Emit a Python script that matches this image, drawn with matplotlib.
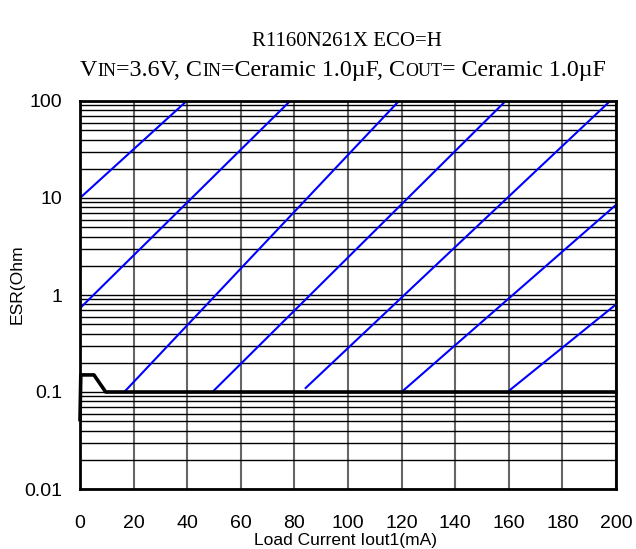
import matplotlib
matplotlib.use("Agg")
import matplotlib.pyplot as plt
from matplotlib.ticker import FixedLocator, LogLocator, NullFormatter
from matplotlib.transforms import Bbox

# stable region boundary (black curve)
esr_x = [0, 0.3, 5.2, 9.6, 200]
esr_y = [0.052, 0.15, 0.15, 0.1, 0.1]

# blue diagonal lines (start / end points)
diag_x = [(0, 39.8), (0, 78.4), (16.5, 119), (49.4, 158), (84.2, 197.8), (120, 200), (159.5, 200)]
diag_y = [(10, 100), (0.73, 100), (0.1, 100), (0.1, 95), (0.11, 100), (0.1, 8.5), (0.1, 0.8)]

xticks = [0, 20, 40, 60, 80, 100, 120, 140, 160, 180, 200]
yticks = [0.01, 0.1, 1, 10, 100]
ytick_labels = ["0.01", "0.1", "1", "10", "100"]

W, H = 636, 549
fig = plt.figure(figsize=(W / 100, H / 100), dpi=100)
ax = fig.add_axes([80 / W, 1 - 489 / H, 536 / W, 388 / H])

ax.set_yscale("log")
ax.set_xlim(0, 200)
ax.set_ylim(0.01, 100)

ax.xaxis.set_major_locator(FixedLocator(xticks))
ax.yaxis.set_major_locator(FixedLocator(yticks))
ax.yaxis.set_minor_locator(LogLocator(base=10, subs=range(2, 10)))
ax.yaxis.set_minor_formatter(NullFormatter())
ax.set_yticklabels(ytick_labels)

ax.grid(True, axis="x", which="major", color="#666666", lw=1.5)
ax.grid(True, axis="y", which="both", color="black", lw=1.0)
ax.tick_params(which="both", length=0)
ax.tick_params(axis="x", pad=19, labelsize=14)
ax.tick_params(axis="y", pad=13, labelsize=14)
for lab in ax.get_xticklabels() + ax.get_yticklabels():
    lab.set_family("Liberation Sans")
for s in ax.spines.values():
    s.set_linewidth(2)

for xs, ys in zip(diag_x, diag_y):
    ax.plot(xs, ys, color="#0000ff", lw=1.5)
ax.plot(esr_x, esr_y, color="black", lw=2.6, clip_on=False)

fig.text(345 / W, 1 - 541 / H, "Load Current Iout1(mA)", ha="center", va="center",
         fontsize=12.5, family="Liberation Sans")
yl = fig.text(17 / W, 1 - 324 / H, "ESR(Ohm)", rotation=90, ha="center", va="bottom",
              fontsize=12.6, family="Liberation Sans")
yl.set_clip_box(Bbox.from_extents(0, 0, W, H - 247))
yl.set_clip_on(True)

# title
fig.text(347 / W, 1 - 41 / H, "R1160N261X ECO=H", ha="center", va="center",
         fontsize=15, family="Liberation Serif")

parts = [("V", 17.3), ("IN", 13), ("=3.6V, C", 17.3), ("IN", 13),
         ("=Ceramic 1.0\u00b5F, C", 17.3), ("OUT", 13), ("= Ceramic 1.0\u00b5F", 17.3)]
renderer = fig.canvas.get_renderer()
texts = []
for s, fs in parts:
    t = fig.text(0, 1 - 76 / H, s, ha="left", va="baseline", fontsize=fs, family="Liberation Serif")
    texts.append(t)
widths = [t.get_window_extent(renderer).width for t in texts]
x0 = 343 - sum(widths) / 2
for t, w in zip(texts, widths):
    t.set_x(x0 / W)
    x0 += w

fig.savefig("out.png", dpi=100)
